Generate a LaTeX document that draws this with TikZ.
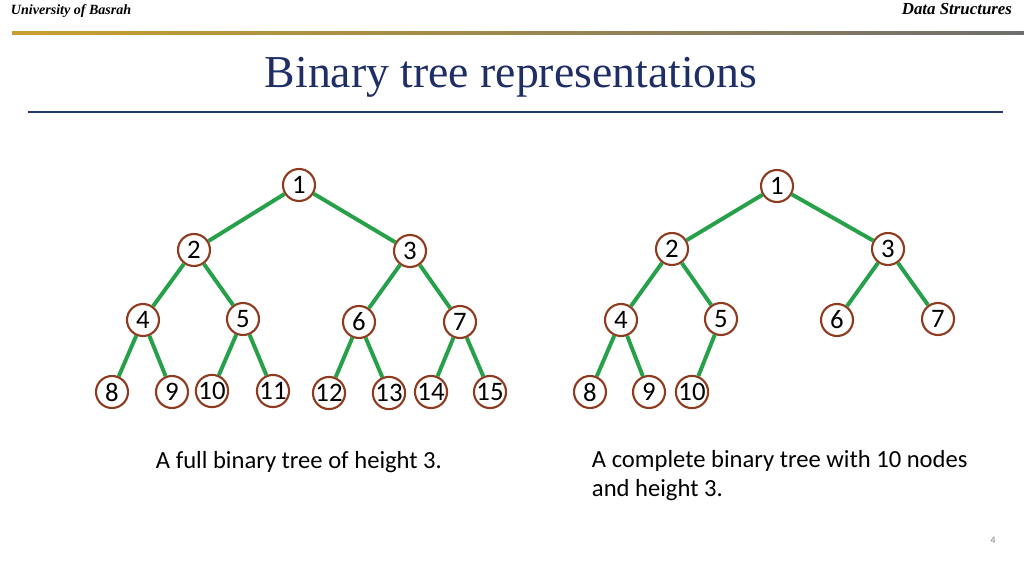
\documentclass[tikz,border=0pt]{standalone}
\usepackage{fontspec}
\setmainfont{Carlito}
\newfontfamily\headfont{Liberation Serif}
\usetikzlibrary{positioning}
\definecolor{TreeGreen}{HTML}{27A04A}
\definecolor{NodeBrown}{HTML}{8E3B1F}
\definecolor{TitleBlue}{HTML}{1F2E66}
\definecolor{RuleBlue}{HTML}{24386E}
\definecolor{RuleGold}{HTML}{C9A030}
\definecolor{RuleGray}{HTML}{6E6E6E}

\begin{document}
\begin{tikzpicture}[
    x=0.025cm, y=-0.025cm,
    tnode/.style={circle, draw=NodeBrown, line width=1.5pt, fill=white, minimum size=0.8cm, inner sep=0pt, font=\fontsize{19}{20}\selectfont},
    edge/.style={draw=TreeGreen, line width=2.8pt},
    caption/.style={anchor=north west, align=left, font=\fontsize{17.5}{21}\selectfont},
    header/.style={font=\headfont\bfseries\itshape\fontsize{10}{11}\selectfont}
]
\useasboundingbox (0,0) rectangle (1024,576);

%%%%%%%%%%%%%%%%%%%%%%%%%%%%%%%%%%%%%%%%%%%%%%%%%%%%%%%%%%%%%%%%%%%
% Slide header and title
%%%%%%%%%%%%%%%%%%%%%%%%%%%%%%%%%%%%%%%%%%%%%%%%%%%%%%%%%%%%%%%%%%%
\node[header, anchor=west] (uni) at (6, 11) {University of Basrah};
\node[header, anchor=east, font=\headfont\bfseries\itshape\fontsize{12}{13}\selectfont] (course) at (1017, 9) {Data Structures};
\shade[left color=RuleGold, right color=RuleGray] (12, 32) rectangle (1024, 34.5);

\node[font=\headfont\fontsize{32.5}{36}\selectfont, text=TitleBlue] (title) at (511, 77) {Binary tree representations};
\draw[RuleBlue, line width=1.3pt] (28, 112) -- (1003, 112);

%%%%%%%%%%%%%%%%%%%%%%%%%%%%%%%%%%%%%%%%%%%%%%%%%%%%%%%%%%%%%%%%%%%
% Full binary tree (Left)
%%%%%%%%%%%%%%%%%%%%%%%%%%%%%%%%%%%%%%%%%%%%%%%%%%%%%%%%%%%%%%%%%%%
\node[tnode] (f1) at (299, 185) {1};
\node[tnode] (f2) at (194, 250) {2};
\node[tnode] (f3) at (410, 251) {3};
\node[tnode] (f4) at (143, 320) {4};
\node[tnode] (f5) at (243, 319) {5};
\node[tnode] (f6) at (359, 322) {6};
\node[tnode] (f7) at (460, 322) {7};
\node[tnode] (f8) at (112, 392) {8};
\node[tnode] (f9) at (172, 392) {9};
\node[tnode] (f10) at (212, 391) {10};
\node[tnode] (f11) at (273, 391) {11};
\node[tnode] (f12) at (329, 393) {12};
\node[tnode] (f13) at (389, 393) {13};
\node[tnode] (f14) at (431, 392) {14};
\node[tnode] (f15) at (490, 392) {15};

% Caption
\node[caption] (fcap) at (151, 446) {A full binary tree of height 3.};

%%%%%%%%%%%%%%%%%%%%%%%%%%%%%%%%%%%%%%%%%%%%%%%%%%%%%%%%%%%%%%%%%%%
% Complete binary tree (Right)
%%%%%%%%%%%%%%%%%%%%%%%%%%%%%%%%%%%%%%%%%%%%%%%%%%%%%%%%%%%%%%%%%%%
\node[tnode] (c1) at (777, 186) {1};
\node[tnode] (c2) at (672, 249) {2};
\node[tnode] (c3) at (888, 249) {3};
\node[tnode] (c4) at (621, 320) {4};
\node[tnode] (c5) at (721, 319) {5};
\node[tnode] (c6) at (837, 320) {6};
\node[tnode] (c7) at (938, 319) {7};
\node[tnode] (c8) at (590, 392) {8};
\node[tnode] (c9) at (649, 392) {9};
\node[tnode] (c10) at (692, 392) {10};

% Caption
\node[caption] (ccap) at (587, 445) {A complete binary tree with 10 nodes\\and height 3.};

%%%%%%%%%%%%%%%%%%%%%%%%%%%%%%%%%%%%%%%%%%%%%%%%%%%%%%%%%%%%%%%%%%%
% Connections - Full tree
%%%%%%%%%%%%%%%%%%%%%%%%%%%%%%%%%%%%%%%%%%%%%%%%%%%%%%%%%%%%%%%%%%%
\draw[edge] (f1) -- (f2);
\draw[edge] (f1) -- (f3);
\draw[edge] (f2) -- (f4);
\draw[edge] (f2) -- (f5);
\draw[edge] (f3) -- (f6);
\draw[edge] (f3) -- (f7);
\draw[edge] (f4) -- (f8);
\draw[edge] (f4) -- (f9);
\draw[edge] (f5) -- (f10);
\draw[edge] (f5) -- (f11);
\draw[edge] (f6) -- (f12);
\draw[edge] (f6) -- (f13);
\draw[edge] (f7) -- (f14);
\draw[edge] (f7) -- (f15);

%%%%%%%%%%%%%%%%%%%%%%%%%%%%%%%%%%%%%%%%%%%%%%%%%%%%%%%%%%%%%%%%%%%
% Connections - Complete tree
%%%%%%%%%%%%%%%%%%%%%%%%%%%%%%%%%%%%%%%%%%%%%%%%%%%%%%%%%%%%%%%%%%%
\draw[edge] (c1) -- (c2);
\draw[edge] (c1) -- (c3);
\draw[edge] (c2) -- (c4);
\draw[edge] (c2) -- (c5);
\draw[edge] (c3) -- (c6);
\draw[edge] (c3) -- (c7);
\draw[edge] (c4) -- (c8);
\draw[edge] (c4) -- (c9);
\draw[edge] (c5) -- (c10);

%%%%%%%%%%%%%%%%%%%%%%%%%%%%%%%%%%%%%%%%%%%%%%%%%%%%%%%%%%%%%%%%%%%
% Page number
%%%%%%%%%%%%%%%%%%%%%%%%%%%%%%%%%%%%%%%%%%%%%%%%%%%%%%%%%%%%%%%%%%%
\node[font=\fontsize{7}{8}\selectfont, text=gray] (page) at (993, 540) {4};

\end{tikzpicture}
\end{document}
